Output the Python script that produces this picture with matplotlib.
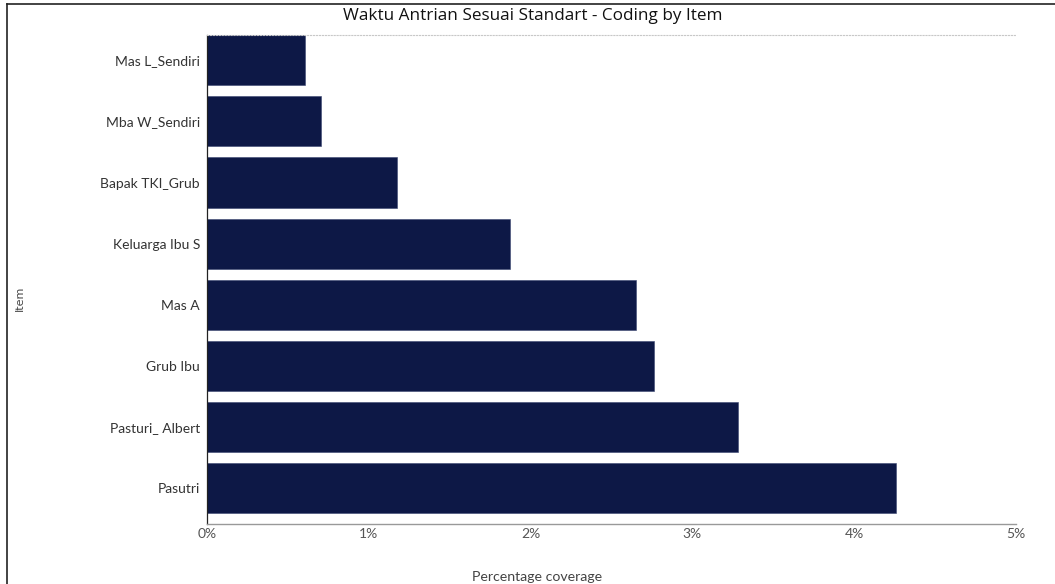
import matplotlib.pyplot as plt
from matplotlib.lines import Line2D
from matplotlib.ticker import FuncFormatter

# data, top to bottom as in the chart
items = ['Mas L_Sendiri', 'Mba W_Sendiri', 'Bapak TKI_Grub', 'Keluarga Ibu S',
         'Mas A', 'Grub Ibu', 'Pasturi_ Albert', 'Pasutri']
coverage = [0.606, 0.705, 1.174, 1.873, 2.651, 2.763, 3.282, 4.258]
xticks = [0, 1, 2, 3, 4, 5]

bar_color = '#0d1846'
text_color = '#333333'

fig = plt.figure(figsize=(10.55, 5.84), dpi=100)
ax = fig.add_axes([207/1055, 1 - 524/584, (1016-207)/1055, (524-35)/584])

n = len(items)
ypos = [n - 1 - i for i in range(n)]
ax.barh(ypos, coverage, height=0.82, color=bar_color, edgecolor='#3a4570', linewidth=0.4)

ax.set_xlim(0, 5)
ax.set_ylim(-0.587, n - 1 + 0.414)
ax.set_yticks(ypos)
ax.set_yticklabels(items, fontfamily='Lato', fontsize=10, color=text_color)
ax.set_xticks(xticks)
ax.xaxis.set_major_formatter(FuncFormatter(lambda v, p: f'{v:.0f}%'))
for lab in ax.get_xticklabels():
    lab.set_fontfamily('Lato')
    lab.set_fontsize(10)
    lab.set_color('#555555')
ax.tick_params(axis='both', length=0)
ax.tick_params(axis='y', pad=5)
ax.tick_params(axis='x', pad=3)

ax.spines['right'].set_visible(False)
ax.spines['top'].set_color('#c8c8c8')
ax.spines['top'].set_linestyle(':')
ax.spines['top'].set_linewidth(0.8)
ax.spines['left'].set_color('#222222')
ax.spines['left'].set_linewidth(0.9)
ax.spines['bottom'].set_color('#999999')
ax.spines['bottom'].set_linewidth(1.0)

fig.text(533/1055, 1 - 16/584, 'Waktu Antrian Sesuai Standart - Coding by Item',
         ha='center', va='center', fontfamily='Open Sans', fontsize=12.3, color='#111111')
fig.text(537/1055, 1 - 577/584, 'Percentage coverage', ha='center', va='center',
         fontfamily='Lato', fontsize=10.2, color='#444444')
fig.text(20/1055, 1 - 298/584, 'Item', ha='center', va='center', rotation=90,
         fontfamily='Liberation Sans Narrow', fontsize=8, color='#444444')

# frame lines along the left and top edge of the image
fig.add_artist(Line2D([7/1055, 7/1055], [0, 1 - 4/584], transform=fig.transFigure,
                      color='#222222', linewidth=1.2))
fig.add_artist(Line2D([7/1055, 1], [1 - 4/584, 1 - 4/584], transform=fig.transFigure,
                      color='#222222', linewidth=1.2))

fig.savefig('out.png', dpi=100)
